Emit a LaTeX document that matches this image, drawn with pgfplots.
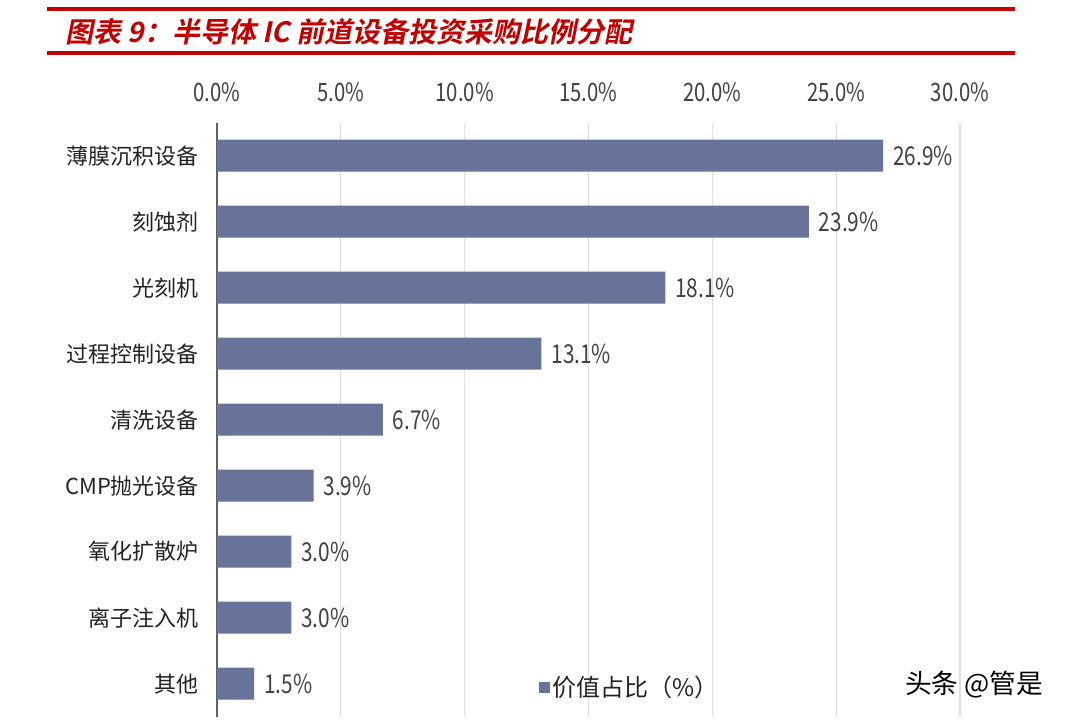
\documentclass[border=0pt]{standalone}
\usepackage{fontspec}
\setmainfont{Noto Sans CJK SC}
\newfontfamily\titlefont[FakeSlant=0.2]{Noto Sans CJK SC Bold}
\usepackage{graphicx}
\usepackage{pgfplots}
\pgfplotsset{compat=1.18}

\definecolor{barblue}{HTML}{677399}
\definecolor{titlered}{HTML}{C00000}
\definecolor{lblgray}{HTML}{404040}
\definecolor{catblack}{HTML}{222222}
\newcommand\nar[1]{\scalebox{0.8}[1]{#1}}

% bottom to top
\pgfplotstableread{
idx val
0 1.5
1 3.0
2 3.0
3 3.9
4 6.7
5 13.1
6 18.1
7 23.9
8 26.9
}\sharetab

\begin{document}
\begin{tikzpicture}
\path[use as bounding box] (0,0) rectangle (798.75pt,-540pt);
% title bars
\fill[titlered] (35.25pt,-5.25pt) rectangle (761.25pt,-8.25pt);
\fill[titlered] (35.25pt,-38.25pt) rectangle (761.25pt,-41.25pt);
\node[anchor=west, text=titlered, inner sep=0pt,
  font=\titlefont\fontsize{21}{21}\selectfont] at (48.75pt,-24pt)
  {图表 9：半导体 IC 前道设备投资采购比例分配};

\begin{axis}[
  at={(162.75pt,-537.5pt)}, anchor=south west,
  width=557.25pt, height=445.5pt, scale only axis,
  xbar, bar width=24pt,
  xmin=0, xmax=30, ymin=-0.5, ymax=8.5,
  axis x line*=top, axis y line*=left,
  x axis line style={draw=none},
  y axis line style={draw=gray!75!black, line width=1pt},
  major tick length=0pt,
  xtick={0,5,...,30},
  xmajorgrids, grid style={gray!25, line width=1pt},
  xticklabel={\nar{\pgfmathprintnumber[fixed,precision=1,fixed zerofill]{\tick}\%}},
  /pgf/number format/assume math mode=true,
  xticklabel style={text=lblgray, font=\fontsize{19}{19}\selectfont, anchor=south, yshift=12pt},
  ytick={0,...,8},
  yticklabels={其他,离子注入机,氧化扩散炉,CMP抛光设备,清洗设备,过程控制设备,光刻机,刻蚀剂,薄膜沉积设备},
  yticklabel style={text=catblack, font=\fontsize{16.5}{16.5}\selectfont, xshift=-10pt},
  point meta=x,
  nodes near coords={\nar{\pgfmathprintnumber[fixed,precision=1,fixed zerofill]{\pgfplotspointmeta}\%}},
  nodes near coords style={text=lblgray, font=\fontsize{19.5}{19.5}\selectfont, anchor=west, xshift=4pt},
  legend style={at={(rel axis cs:0.428,0.049)}, anchor=west, draw=none, fill=none,
    font=\fontsize{18}{18}\selectfont, text=catblack},
  legend image code/.code={\fill[barblue] (0cm,-0.14cm) rectangle (0.28cm,0.14cm);},
]
\addplot[fill=barblue, draw=none] table[x=val, y=idx] {\sharetab};
\addlegendentry{价值占比（\%）}
\end{axis}

\node[anchor=west, inner sep=0pt, font=\fontsize{20}{20}\selectfont] at (678.75pt,-513.75pt) {头条 @管是};
\end{tikzpicture}
\end{document}
